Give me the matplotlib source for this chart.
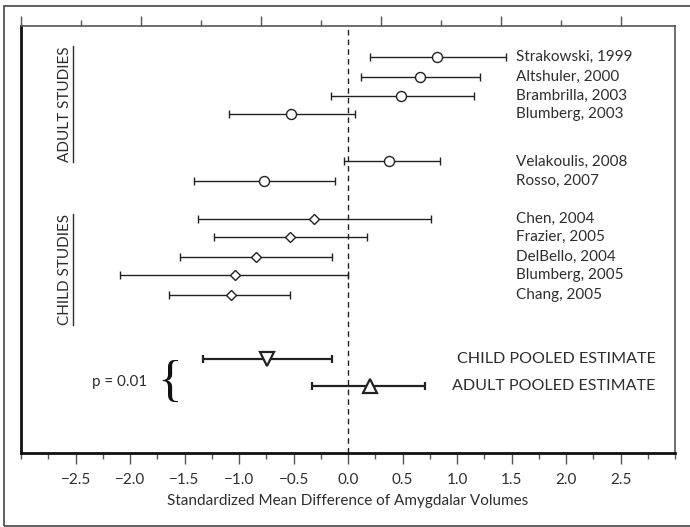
import matplotlib.pyplot as plt
from matplotlib.patches import Rectangle
from matplotlib.lines import Line2D
from matplotlib.ticker import MultipleLocator
import numpy as np

plt.rcParams['font.family'] = ['Lato', 'DejaVu Sans']

# adult studies
adult_names = ["Strakowski, 1999", "Altshuler, 2000", "Brambrilla, 2003",
               "Blumberg, 2003", "Velakoulis, 2008", "Rosso, 2007"]
adult_est = [0.82, 0.66, 0.49, -0.52, 0.38, -0.77]
adult_lo = [0.20, 0.12, -0.16, -1.09, -0.04, -1.41]
adult_hi = [1.45, 1.21, 1.16, 0.06, 0.84, -0.12]

# child studies
child_names = ["Chen, 2004", "Frazier, 2005", "DelBello, 2004",
               "Blumberg, 2005", "Chang, 2005"]
child_est = [-0.31, -0.53, -0.84, -1.04, -1.07]
child_lo = [-1.38, -1.23, -1.54, -2.09, -1.64]
child_hi = [0.76, 0.17, -0.15, 0.0, -0.53]

# pooled
pooled_names = ["CHILD POOLED ESTIMATE", "ADULT POOLED ESTIMATE"]
pooled_est = [-0.74, 0.20]
pooled_lo = [-1.33, -0.33]
pooled_hi = [-0.15, 0.71]

xticks = [-2.5, -2.0, -1.5, -1.0, -0.5, 0.0, 0.5, 1.0, 1.5, 2.0, 2.5]

# row positions (layout)
adult_rows = [1.59, 2.61, 3.59, 4.54, 6.96, 7.98]
child_rows = [9.91, 10.85, 11.88, 12.78, 13.79]
pooled_rows = [17.11, 18.46]

col = '#222222'
txt = '#2e2e2e'
fs = 11

fig = plt.figure(figsize=(6.9, 5.27), dpi=100)
ax = fig.add_axes([21 / 690, 1 - 453.3 / 527, 654 / 690, 427.6 / 527])
ax.set_xlim(-3, 3)
ax.set_ylim(21.93, 0)

ax.axvline(0, color=col, lw=1.0, ls=(0, (4, 3)), zorder=1)


def draw(est, lo, hi, rows, marker, ms, lw, mew):
    est = np.array(est)
    ax.errorbar(est, rows, xerr=[est - np.array(lo), np.array(hi) - est],
                fmt='none', ecolor=col, elinewidth=lw, capsize=3.2,
                capthick=lw, zorder=2)
    ax.plot(est, rows, ls='none', marker=marker, ms=ms, mfc='white',
            mec=col, mew=mew, zorder=3)


draw(adult_est, adult_lo, adult_hi, adult_rows, 'o', 7.2, 1.0, 1.0)
draw(child_est, child_lo, child_hi, child_rows, 'D', 5.0, 1.0, 1.0)
draw(pooled_est[:1], pooled_lo[:1], pooled_hi[:1], pooled_rows[:1], 'v', 10, 1.6, 1.6)
draw(pooled_est[1:], pooled_lo[1:], pooled_hi[1:], pooled_rows[1:], '^', 10, 1.6, 1.6)

for name, r in zip(adult_names + child_names, adult_rows + child_rows):
    ax.text(1.54, r, name, ha='left', va='center', fontsize=fs, color=txt)
for name, r in zip(pooled_names, pooled_rows):
    ax.text(2.82, r, name, ha='right', va='center', fontsize=11.6, color=txt)

ax.text(-1.84, 18.25, "p = 0.01", ha='right', va='center', fontsize=fs, color=txt)
ax.text(-1.52, 18.3, "{", ha='right', va='center', fontsize=37,
        family='Liberation Serif', color='#111111')

lab_a = ax.text(-2.6, 4.0, "ADULT STUDIES", rotation=90, ha='center', va='center',
                fontsize=fs, color=txt)
lab_c = ax.text(-2.6, 12.52, "CHILD STUDIES", rotation=90, ha='center', va='center',
                fontsize=fs, color=txt)

ax.set_xticks(xticks)
ax.set_xticklabels([("\u2212" if v < 0 else "") + "%.1f" % abs(v) for v in xticks])
ax.xaxis.set_minor_locator(MultipleLocator(0.25))
ax.tick_params(axis='x', which='major', length=8, width=1, color='#555555',
               labelsize=fs, labelcolor=txt, pad=6)
ax.tick_params(axis='x', which='minor', length=4, width=1, color='#555555')
ax.set_yticks([])
ax.set_xlabel("Standardized Mean Difference of Amygdalar Volumes", fontsize=fs,
              color=txt, labelpad=5)

ax.spines['left'].set_linewidth(2.0)
ax.spines['bottom'].set_linewidth(2.0)
ax.spines['left'].set_color('#111111')
ax.spines['bottom'].set_color('#111111')
ax.spines['right'].set_linewidth(1.2)
ax.spines['right'].set_color('#555555')
ax.spines['top'].set_linewidth(1.2)
ax.spines['top'].set_color('#555555')

# top tick marks on their own scale
top = ax.twiny()
top.set_xlim(0, 10.9)
top.set_xticks([0, 2, 4, 6, 8, 10])
top.set_xticks([1, 3, 5, 7, 9], minor=True)
top.set_xticklabels([])
top.tick_params(axis='x', which='major', length=7, width=1, color='#555555')
top.tick_params(axis='x', which='minor', length=4, width=1, color='#555555')
for s in top.spines.values():
    s.set_visible(False)

# outer frame
fig.patches.append(Rectangle((4 / 690, 1.5 / 527), 1.0, 519.5 / 527,
                             transform=fig.transFigure, fill=False,
                             ec='#444444', lw=1.2))

# underline the rotated group labels
fig.canvas.draw()
for t in (lab_a, lab_c):
    bb = t.get_window_extent()
    x = bb.x1 + 1
    fig.lines.append(Line2D([x, x], [bb.y0, bb.y1], color=txt, lw=1.0,
                            transform=None))

fig.savefig("out.png", dpi=100)
